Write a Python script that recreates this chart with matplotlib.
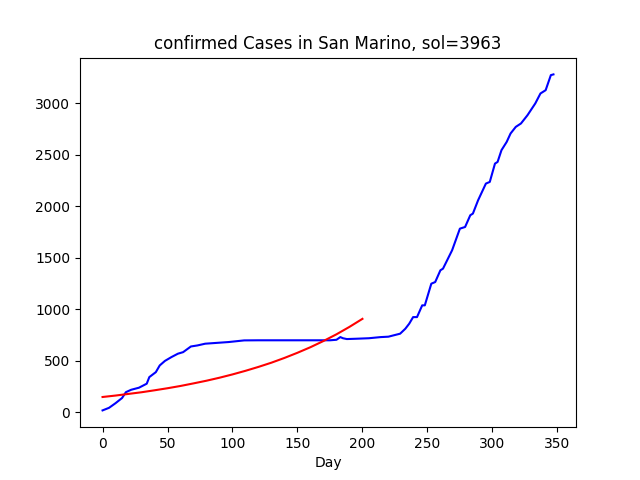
import matplotlib
matplotlib.use("Agg")
import matplotlib.pyplot as plt

days = [0, 5, 10, 15, 18, 22, 28, 34, 36, 41, 44, 48, 53, 58, 62, 68, 73, 79, 88, 97,
        109, 120, 140, 160, 175, 180, 183, 185, 188, 195, 205, 214, 220, 224, 229,
        233, 236, 239, 242, 246, 248, 253, 256, 260, 262, 269, 275, 279, 283, 285, 289,
        295, 298, 302, 304, 307, 311, 314, 318, 322, 327, 333, 337, 341, 345, 347]
cases = [20, 45, 90, 140, 197, 220, 240, 279, 343, 391, 456, 500, 537, 570, 585, 640, 650, 667, 675, 683,
         699, 700, 700, 700, 700, 705, 731, 720, 712, 715, 720, 731, 735, 748, 764,
         812, 861, 925, 925, 1039, 1039, 1249, 1265, 1379, 1395, 1573, 1783, 1799, 1913, 1929, 2058,
         2220, 2236, 2414, 2430, 2544, 2624, 2706, 2770, 2803, 2883, 2997, 3094, 3126, 3272, 3279]

#fitted curve
fit_days = [0, 10, 20, 30, 40, 50, 60, 70, 80, 90, 100, 110, 120, 130, 140, 150, 160, 170, 180, 190, 200]
fit_cases = [150, 164, 180, 196, 215, 235, 257, 282, 308, 337, 369, 404, 442, 483, 529, 579, 633, 693, 758, 830, 908]

fig = plt.figure(figsize=(6.4, 4.8), dpi=100)
ax = fig.add_subplot(111)
ax.plot(days, cases, "b")
ax.plot(fit_days, fit_cases, "r")
ax.set_title("confirmed Cases in San Marino, sol=3963")
ax.set_xlabel("Day")

fig.savefig("out.png")
